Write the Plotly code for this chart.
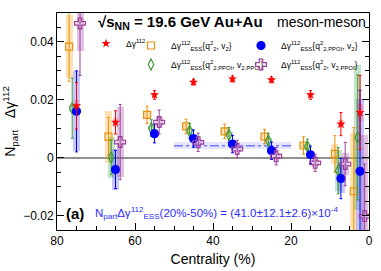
import plotly.graph_objects as go

# ---------------- data ----------------
# Δγ112 (red stars)
red_x = [75, 65, 55, 45, 35, 25, 15, 7.2, 2.3]
red_y = [0.0179, 0.0122, 0.0217, 0.0261, 0.0272, 0.0269, 0.0217, 0.0116, 0.0156]
red_stat = [0.008, 0.004, 0.0015, 0.001, 0.001, 0.001, 0.0015, 0.004, 0.0128]
red_sys = [0.002, 0.0015, 0.0008, 0.0006, 0.0006, 0.0006, 0.0008, 0.0015, 0.003]

# Δγ112_ESS{q2^2, v2} (orange open squares)
org_x = [76.9, 66.8, 56.9, 46.9, 37.0, 26.8, 16.8, 8.75, 3.9]
org_y = [0.0384, 0.0073, 0.0148, 0.0108, 0.0091, 0.0073, 0.0042, 0.0013, -0.0116]
org_stat = [0.012, 0.0066, 0.003, 0.0025, 0.0025, 0.0025, 0.003, 0.0063, 0.022]
org_sys = [0.011, 0.009, 0.0015, 0.001, 0.001, 0.001, 0.0012, 0.0035, 0.02]

# Δγ112_ESS{q2,PPOI^2, v2,PPOI} (green open diamonds)
grn_x = [76.1, 66.1, 55.8, 46.0, 35.9, 25.8, 15.8, 7.9, 2.9]
grn_y = [0.0171, 0.0001, 0.0102, 0.0093, 0.0079, 0.0059, 0.0039, -0.0045, 0.007]
grn_stat = [0.0104, 0.006, 0.0029, 0.0025, 0.0025, 0.0025, 0.0025, 0.008, 0.0216]
grn_sys = [0.0012, 0.007, 0.0008, 0.0008, 0.0008, 0.0008, 0.0008, 0.007, 0.025]

# Δγ112_ESS{q2,PPOI^2, v2} (blue filled circles)
blu_x = [75, 65, 55, 45, 35, 25, 15, 7.2, 2.3]
blu_y = [0.016, -0.0041, 0.0083, 0.0066, 0.0047, 0.0024, 0.001, -0.0072, -0.0047]
blu_stat = [0.014, 0.0066, 0.0032, 0.003, 0.003, 0.003, 0.003, 0.007, 0.028]
blu_sys = [0.0138, 0.007, 0.001, 0.001, 0.001, 0.001, 0.001, 0.005, 0.025]

# Δγ112_ESS{q2^2, v2,PPOI} (purple open crosses)
pur_x = [74.1, 63.8, 53.8, 43.8, 33.8, 23.8, 13.8, 6.1, 1.1]
pur_y = [0.0464, 0.0054, 0.0123, 0.0053, 0.003, 0.0005, -0.0018, -0.0022, -0.0202]
pur_stat = [0.018, 0.013, 0.0042, 0.0032, 0.003, 0.003, 0.003, 0.0075, 0.018]
pur_sys = [0.0097, 0.012, 0.0018, 0.001, 0.001, 0.001, 0.001, 0.0037, 0.028]

# 20%-50% average  (units of 1e-4)
avg_range = [50, 20]
avg_val, avg_stat, avg_sys = 41.0, 12.1, 2.6

x_ticks = [80, 60, 40, 20, 0]
y_ticks = [-0.02, 0, 0.02, 0.04]

FONT = "Liberation Sans, Arial, Helvetica, sans-serif"

fig = go.Figure()


def sys_boxes(x, y, sys, color, w):
    fig.add_trace(go.Bar(
        x=x, y=[2 * s for s in sys], base=[v - s for v, s in zip(y, sys)],
        width=w, marker=dict(color=color, line=dict(width=0)),
        showlegend=False, hoverinfo="skip"))


sys_boxes(org_x, org_y, org_sys, "rgba(255,170,40,0.35)", 1.8)
sys_boxes(grn_x, grn_y, grn_sys, "rgba(60,160,60,0.30)", 1.8)
sys_boxes(blu_x, blu_y, blu_sys, "rgba(70,70,255,0.30)", 2.0)
sys_boxes(pur_x, pur_y, pur_sys, "rgba(160,60,160,0.30)", 1.8)
sys_boxes(red_x, red_y, red_sys, "rgba(255,60,60,0.30)", 1.4)

# average band
mid = sum(avg_range) / 2
fig.add_trace(go.Bar(
    x=[mid], y=[2 * avg_stat * 1e-4], base=[(avg_val - avg_stat) * 1e-4],
    width=abs(avg_range[0] - avg_range[1]),
    marker=dict(color="rgba(110,110,255,0.18)", line=dict(width=0)),
    showlegend=False, hoverinfo="skip"))
fig.add_trace(go.Scatter(
    x=avg_range, y=[avg_val * 1e-4] * 2, mode="lines",
    line=dict(color="rgba(90,90,255,0.8)", width=1.5, dash="dashdot"),
    showlegend=False, hoverinfo="skip"))


def series(x, y, stat, color, symbol, size, name, legend, rank, lw=1.2):
    fig.add_trace(go.Scatter(
        x=x, y=y, mode="markers", name=name, legend=legend, legendrank=rank,
        marker=dict(symbol=symbol, size=size, color=color,
                    line=dict(color=color, width=lw)),
        error_y=dict(type="data", array=stat, color=color, thickness=1, width=1.5)))


series(org_x, org_y, org_stat, "#e8900a", "square-open", 7,
       "Δγ<sup>112</sup><sub>ESS</sub>{q<sup>2</sup><sub>2</sub>, v<sub>2</sub>}", "legend2", 1)
series(grn_x, grn_y, grn_stat, "#3c9a3c", "diamond-tall-open", 8,
       "Δγ<sup>112</sup><sub>ESS</sub>{q<sup>2</sup><sub>2,PPOI</sub>, v<sub>2,PPOI</sub>}", "legend2", 2)
series(blu_x, blu_y, blu_stat, "#0000ff", "circle", 8,
       "Δγ<sup>112</sup><sub>ESS</sub>{q<sup>2</sup><sub>2,PPOI</sub>, v<sub>2</sub>}", "legend3", 1)
series(pur_x, pur_y, pur_stat, "#9b3d9b", "cross-open", 9,
       "Δγ<sup>112</sup><sub>ESS</sub>{q<sup>2</sup><sub>2</sub>, v<sub>2,PPOI</sub>}", "legend3", 2)
series(red_x, red_y, red_stat, "#ff0000", "star", 7,
       "Δγ<sup>112</sup>", "legend", 0, lw=0)

# plot area in px: x 57..369, y 13..230
L, R, T, B = 57, 12, 13, 41
W, H = 381, 271
PW, PH = W - L - R, H - T - B


def px(xp):
    return (xp - L) / PW


def py(yp):
    return (H - B - yp) / PH


axis_common = dict(showline=True, linecolor="black", linewidth=1, automargin=False,
                   ticks="inside", ticklen=7, tickcolor="black", showgrid=False,
                   tickfont=dict(size=12, color="black", family=FONT))

legend_common = dict(xanchor="left", yanchor="top", bgcolor="rgba(0,0,0,0)",
                     font=dict(size=8.5), itemwidth=30, tracegroupgap=0,
                     traceorder="normal")

fig.update_layout(
    width=W, height=H, autosize=False, margin=dict(l=L, r=R, t=T, b=B),
    paper_bgcolor="white", plot_bgcolor="white",
    barmode="overlay", bargap=0,
    font=dict(family=FONT, color="black"),
    xaxis=dict(range=[80, 0], tickvals=x_ticks, mirror=True,
               minor=dict(dtick=5, ticklen=4, ticks="inside", tickcolor="black"),
               title=dict(text="Centrality (%)", font=dict(size=14), standoff=6),
               zeroline=False, **axis_common),
    yaxis=dict(range=[-0.025, 0.05], tickvals=y_ticks, mirror="ticks",
               minor=dict(dtick=0.005, ticklen=4, ticks="inside", tickcolor="black"),
               title=dict(text="N<sub>part</sub>\u00a0\u00a0\u00a0Δγ<sup>112</sup>",
                          font=dict(size=14), standoff=4),
               zeroline=True, zerolinecolor="#909090", zerolinewidth=1.5,
               **axis_common),
    legend=dict(x=px(86), y=py(29), **legend_common),
    legend2=dict(x=px(131), y=py(31), **legend_common),
    legend3=dict(x=px(241), y=py(31), **legend_common),
    annotations=[
        dict(text="<b>√s<sub>NN</sub> = 19.6 GeV Au+Au</b>", x=px(96), y=py(22),
             xref="paper", yref="paper", xanchor="left", yanchor="middle",
             showarrow=False, font=dict(size=15)),
        dict(text="meson-meson", x=px(275), y=py(22), xref="paper", yref="paper",
             xanchor="left", yanchor="middle", showarrow=False, font=dict(size=14)),
        dict(text="<b>(a)</b>", x=px(64), y=py(213), xref="paper", yref="paper",
             xanchor="left", yanchor="middle", showarrow=False, font=dict(size=15)),
        dict(text=("N<sub>part</sub>Δγ<sup>112</sup><sub>ESS</sub>(20%-50%) = "
                   f"({avg_val:.1f}±{avg_stat:.1f}±{avg_sys:.1f})×10<sup>-4</sup>"),
             x=px(93), y=py(213), xref="paper", yref="paper",
             xanchor="left", yanchor="middle", showarrow=False,
             font=dict(size=11.5, color="#2b2bff")),
    ],
)

fig.write_html(
    "out.html",
    config={"displayModeBar": False, "responsive": False},
    post_script=("document.documentElement.style.overflow='hidden';"
                 "document.body.style.overflow='hidden';"
                 "document.body.style.margin='0px';"),
)
